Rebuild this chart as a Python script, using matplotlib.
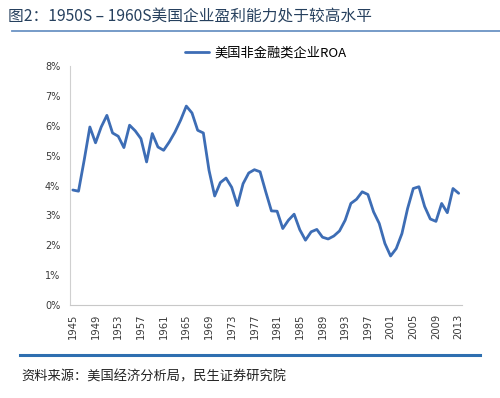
import numpy as np
import matplotlib
matplotlib.use("Agg")
import matplotlib.pyplot as plt
from matplotlib.lines import Line2D

plt.rcParams['font.family'] = ['Noto Sans CJK SC', 'DejaVu Sans']

LINE, TITLE, RULE_TOP, RULE_BOT, TICK = '#3d6db5', '#26405e', '#6b93c4', '#2e6fb0', '#3a3a3a'

years = list(range(1945, 2014))
roa = [3.85, 3.81, 4.85, 5.96, 5.43, 5.96, 6.35, 5.76, 5.65, 5.27,
       6.02, 5.83, 5.57, 4.79, 5.74, 5.29, 5.18, 5.46, 5.79, 6.19,
       6.66, 6.43, 5.85, 5.76, 4.51, 3.65, 4.10, 4.25, 3.94, 3.33,
       4.06, 4.42, 4.53, 4.46, 3.79, 3.15, 3.14, 2.56, 2.84, 3.04,
       2.52, 2.17, 2.45, 2.53, 2.27, 2.21, 2.31, 2.48, 2.84, 3.40,
       3.54, 3.79, 3.70, 3.12, 2.73, 2.06, 1.64, 1.89, 2.39, 3.23,
       3.90, 3.96, 3.30, 2.88, 2.80, 3.40, 3.09, 3.90, 3.74]
tick_years = list(range(1945, 2014, 4))
yticks = list(range(0, 9))

fig = plt.figure(figsize=(5.0, 3.98), dpi=100, facecolor='white')
ax = fig.add_axes([0.14, 0.2337, 0.783, 0.6003])

ax.plot(years, roa, color=LINE, lw=2.0, solid_joinstyle='round', solid_capstyle='round',
        label='美国非金融类企业ROA')
ax.set_xlim(1944.5, 2013.5)
ax.set_ylim(0, 8)
ax.set_yticks(yticks)
ax.set_yticklabels([f"{v}%" for v in yticks], fontsize=7, color=TICK, family='DejaVu Sans')
ax.set_xticks(tick_years)
ax.set_xticklabels([str(y) for y in tick_years], rotation=90, fontsize=7.2, color=TICK,
                   family='DejaVu Sans')
ax.tick_params(axis='y', length=0, pad=7)
ax.tick_params(axis='x', length=0, pad=6)
ax.spines[['top', 'right']].set_visible(False)
ax.spines['left'].set_color('#d0d0d0')
ax.spines['bottom'].set_color('#c8c8c8')

ax.legend(loc='center', bbox_to_anchor=(0.532, 0.867), bbox_transform=fig.transFigure,
          frameon=False, fontsize=9.5, handlelength=1.8, handletextpad=0.4)

fig.text(0.016, 0.957, "图2：1950S – 1960S美国企业盈利能力处于较高水平", fontsize=11.3,
         color=TITLE, ha='left', va='center')
fig.add_artist(Line2D([0.024, 1.0], [1 - 31 / 398] * 2, color=RULE_TOP, lw=1.3))
fig.add_artist(Line2D([0.04, 0.96], [1 - 355 / 398] * 2, color=RULE_BOT, lw=2.2))
fig.text(0.042, 1 - 377 / 398, "资料来源：美国经济分析局，民生证券研究院", fontsize=9.5,
         color='#222222', ha='left', va='center')

fig.savefig("out.png", dpi=100, facecolor='white')
